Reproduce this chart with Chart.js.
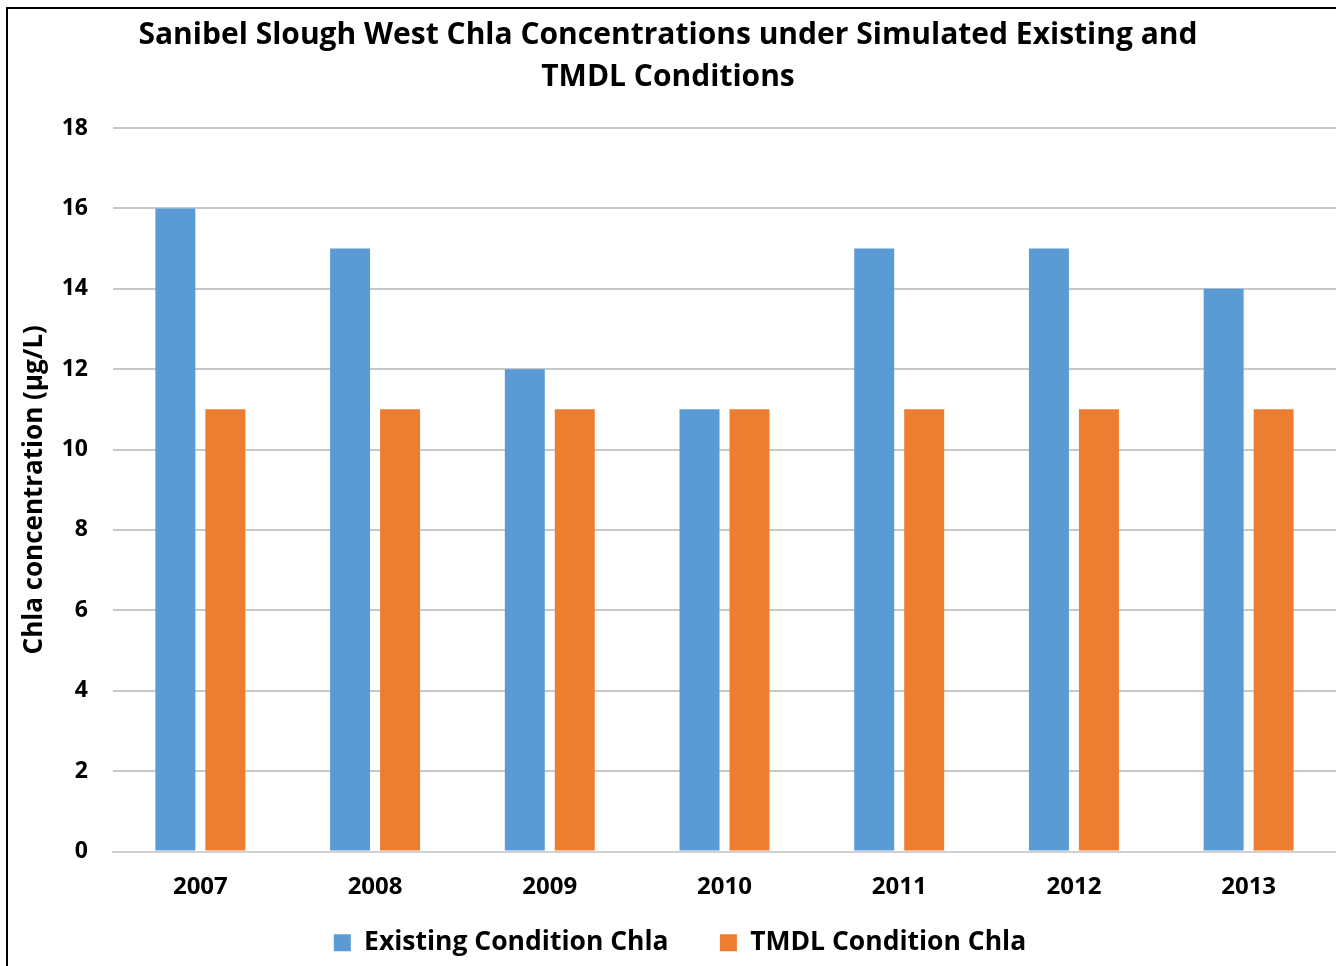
<!DOCTYPE html>
<html>
<head>
<meta charset="utf-8">
<script src="https://cdn.jsdelivr.net/npm/chart.js@4/dist/chart.umd.min.js"></script>
<style>
  html, body { margin: 0; padding: 0; background: #fff; overflow: hidden; }
  #wrap { position: absolute; left: 0; top: 0; width: 1336px; height: 966px; }
  #frame { position: absolute; left: 6px; top: 7px; width: 1340px; height: 980px;
           border: 2px solid #000; pointer-events: none; box-sizing: border-box; }
</style>
</head>
<body>
<div id="wrap"><canvas id="c" width="1336" height="966"></canvas></div>
<div id="frame"></div>
<script>
// Annual Chla concentrations (µg/L), Sanibel Slough West
const years = ['2007', '2008', '2009', '2010', '2011', '2012', '2013'];
const existingChla = [16, 15, 12, 11, 15, 15, 14];
const tmdlChla = [11, 11, 11, 11, 11, 11, 11];
const yTicks = [0, 2, 4, 6, 8, 10, 12, 14, 16, 18];
const seriesNames = ['Existing Condition Chla', 'TMDL Condition Chla'];

const FONT = '"Open Sans", sans-serif';
const NBSP = '\u00A0';

// nudge the legend row a little to the right of centre
const legendNudge = {
  id: 'legendNudge',
  afterLayout(chart) {
    const lg = chart.legend;
    if (lg) { lg.left += 12; lg.right += 12; }
  }
};

new Chart(document.getElementById('c'), {
  type: 'bar',
  data: {
    labels: years,
    datasets: [
      { label: seriesNames[0], data: existingChla, backgroundColor: '#5B9BD5',
        barPercentage: 0.8, categoryPercentage: 0.572 },
      { label: seriesNames[1], data: tmdlChla, backgroundColor: '#ED7D31',
        barPercentage: 0.8, categoryPercentage: 0.572 }
    ]
  },
  plugins: [legendNudge],
  options: {
    responsive: false,
    animation: false,
    devicePixelRatio: 1,
    layout: { padding: { left: 0, right: 0, top: 0, bottom: 0 } },
    plugins: {
      title: {
        display: true,
        text: ['Sanibel Slough West Chla Concentrations under Simulated Existing and', 'TMDL Conditions'],
        color: '#000',
        font: { family: FONT, size: 30, weight: 'bold', lineHeight: 1.4 },
        padding: { top: 14, bottom: 30 }
      },
      legend: {
        position: 'bottom',
        labels: {
          color: '#000',
          font: { family: FONT, size: 26.5, weight: 'bold' },
          boxWidth: 17, boxHeight: 17,
          padding: 10,
          generateLabels: (chart) => {
            const items = Chart.defaults.plugins.legend.labels.generateLabels(chart);
            // widen the space after the first entry
            items[0].text = items[0].text + NBSP.repeat(6);
            return items;
          }
        }
      },
      tooltip: { enabled: false }
    },
    scales: {
      x: {
        grid: { display: false, drawTicks: false },
        border: { display: true, color: '#d0d0d0', width: 2 },
        ticks: { color: '#000', font: { family: FONT, size: 24, weight: 'bold' }, padding: 21 },
        afterFit: (s) => { s.height = 68; }
      },
      y: {
        min: 0, max: 18,
        afterBuildTicks: (s) => { s.ticks = yTicks.map(v => ({ value: v })); },
        grid: { color: '#c8c8c8', lineWidth: 2, drawTicks: false },
        border: { display: false },
        ticks: { color: '#000', font: { family: FONT, size: 23, weight: 'bold' }, padding: 25 },
        title: {
          display: true,
          text: 'Chla concentration (µg/L)',
          color: '#000',
          font: { family: FONT, size: 26, weight: 'bold' },
          padding: { top: 19, bottom: 0 }
        },
        afterFit: (s) => { s.width = 113; }
      }
    }
  }
});
</script>
</body>
</html>
